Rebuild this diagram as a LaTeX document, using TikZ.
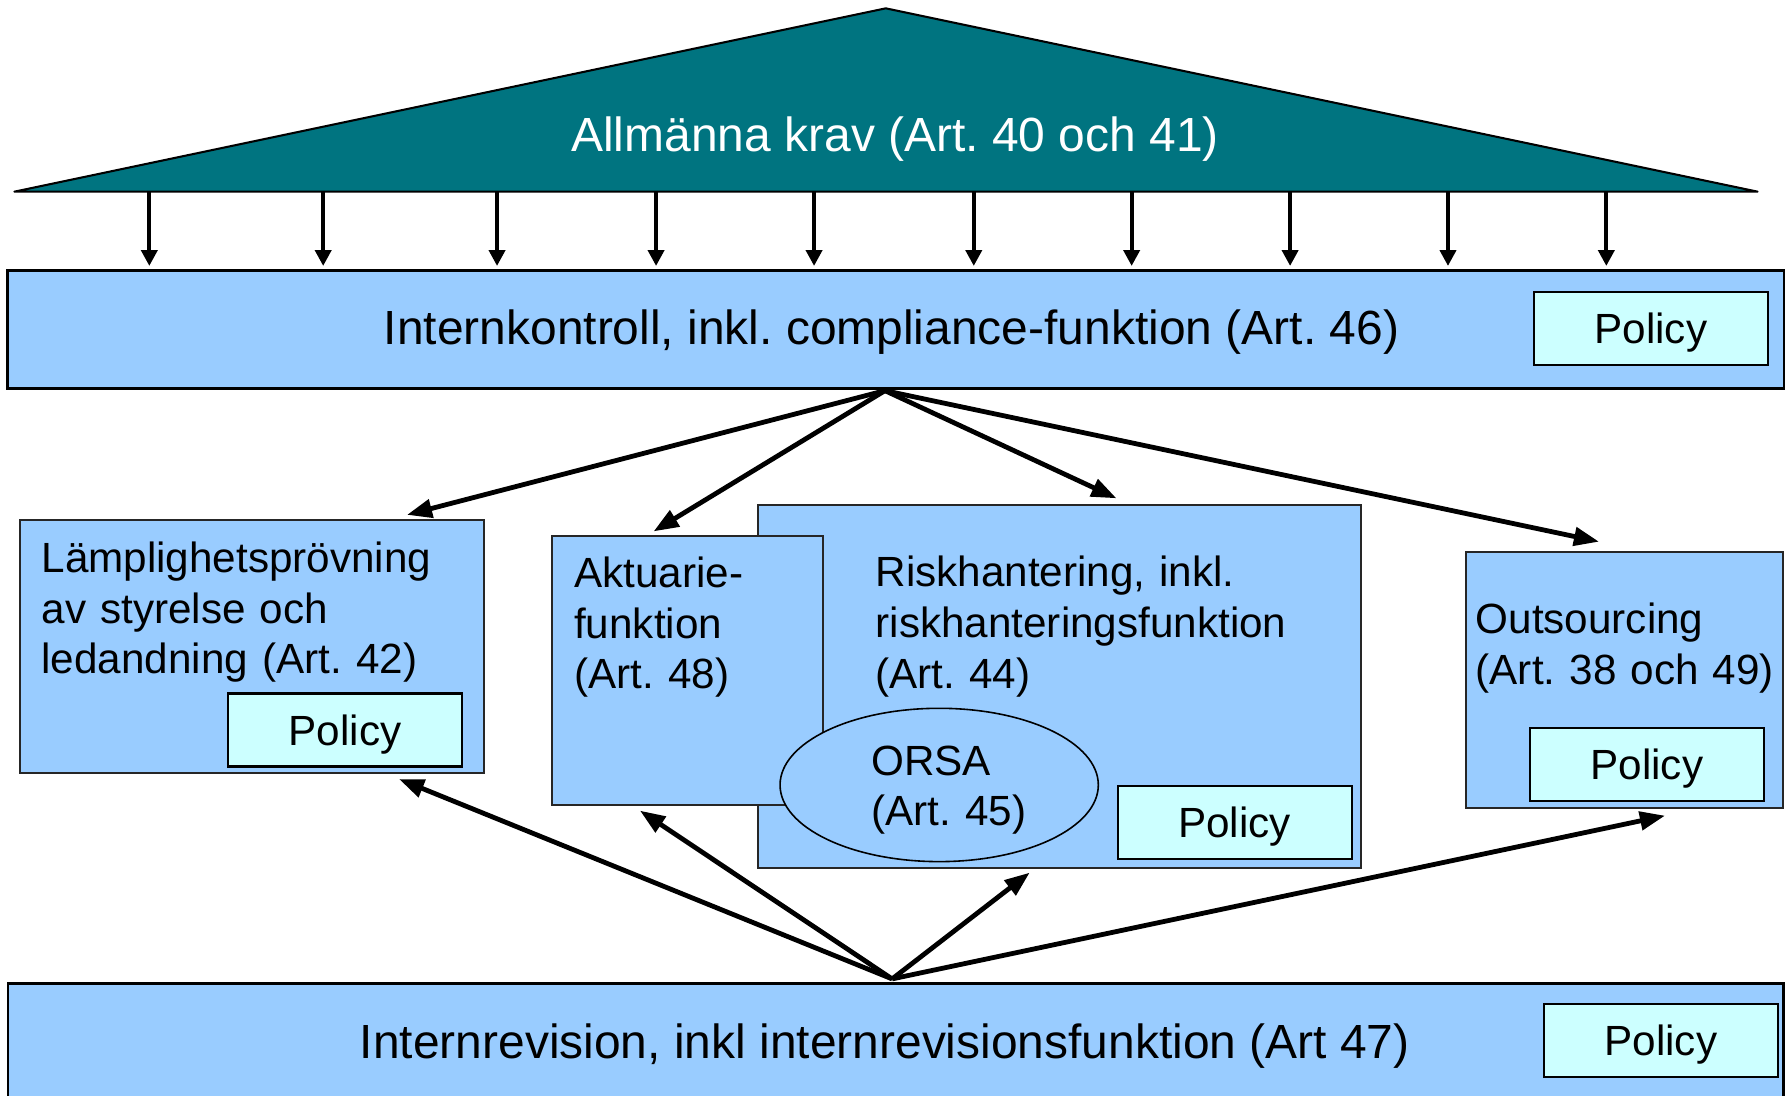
\documentclass[tikz,border=0pt]{standalone}
\usepackage{fontspec}
\setmainfont{Liberation Sans}
\usetikzlibrary{arrows.meta,shapes.geometric}
\definecolor{teal1}{HTML}{007480}
\definecolor{boxblue}{HTML}{99CCFF}
\definecolor{polcyan}{HTML}{CCFFFF}
\tikzset{
  sz/.style 2 args={minimum width=#1pt, minimum height=#2pt},
  mainbox/.style={draw=black, line width=2.2pt, fill=boxblue, inner sep=0pt},
  midbox/.style={draw=black!85, line width=1.6pt, fill=boxblue, inner sep=0pt},
  policybox/.style={draw=black, line width=1.9pt, fill=polcyan, inner sep=0pt,
    minimum width=205pt, minimum height=64pt,
    font=\fontsize{37}{44}\selectfont, text height=26.5pt, text depth=0pt},
  bigtext/.style={font=\fontsize{42}{50}\selectfont, inner sep=0pt, anchor=base west},
  smalltext/.style={font=\fontsize{37}{44.5}\selectfont, inner sep=0pt,
    text width=500pt, align=left, anchor=base west},
  vertarrow/.style={line width=3.5pt, -{Triangle[length=14pt,width=14pt]}, shorten >=3pt},
  diagarrow/.style={line width=4.2pt, -{Triangle[length=22pt,width=16pt]}},
}
\begin{document}
\frenchspacing
\begin{tikzpicture}[x=1pt,y=-1pt]
\useasboundingbox (0,0) rectangle (1568,960);

% Internkontroll box
\node[mainbox, sz={1556.2}{103.1}] (ik) at (784.6,288.65) {};
\node[bigtext] (ikT) at (336,302.2) {Internkontroll, inkl. compliance-funktion (Art. 46)};
\node[policybox] (ikpol) at (1446.1,287.6) {Policy};

% Triangle (Allmänna krav)
\draw[fill=teal1, draw=black, line width=1.8pt, line join=round]
  (12.6,167.9) -- (775.9,7.3) -- (1539.6,167.9) -- cycle;
\node[bigtext, text=white] (krav) at (500.3,132.9) {Allmänna krav (Art. 40 och 41)};

% vertical arrows from triangle base
\foreach \i/\xx in {1/130.8,2/283.1,3/435.4,4/574.7,5/713.1,6/853,7/991.3,8/1130.1,9/1268.4,10/1407.1}{
  \coordinate (b\i) at (\xx,167.9);
  \draw[vertarrow] (b\i) -- (b\i |- ik.north);
}

% Lämplighetsprövning
\node[midbox, sz={406.1}{221.9}] (lamp) at (220.65,566.45) {};
\node[smalltext] (lampT) at (36.2,501.3) {Lämplighetsprövning\\av styrelse och\\ledandning (Art. 42)};
\node[policybox] (lamppol) at (302.2,639.45) {Policy};

% Riskhantering (behind)
\node[midbox, sz={527.9}{318.2}] (risk) at (927.95,601.5) {};
\node[smalltext] (riskT) at (766.8,513.9) {Riskhantering, inkl.\\riskhanteringsfunktion\\(Art. 44)};
\node[policybox] (riskpol) at (1081.5,720.45) {Policy};

% Aktuariefunktion (in front of risk)
\node[midbox, sz={237}{235.7}] (akt) at (602.1,587.35) {};
\node[smalltext] (aktT) at (502.8,514.5) {Aktuarie-\\funktion\\(Art. 48)};

% ORSA ellipse
\node[ellipse, draw=black, line width=1.4pt, fill=boxblue, inner sep=0pt,
  sz={278.8}{134.3}] (orsa) at (822.7,687.6) {};
\node[smalltext, font=\fontsize{37}{43.8}\selectfont] (orsaT) at (763,678.9) {ORSA\\(Art. 45)};

% Outsourcing
\node[midbox, sz={277.9}{224.8}] (out) at (1422.95,595.6) {};
\node[smalltext] (outT) at (1292.5,554.8) {Outsourcing\\(Art. 38 och 49)};
\node[policybox] (outpol) at (1442.55,669.35) {Policy};

% Internrevision
\node[mainbox, sz={1555.1}{137}] (ir) at (784.55,930) {};
\node[bigtext] (irT) at (315,927) {Internrevision, inkl internrevisionsfunktion (Art 47)};
\node[policybox] (irpol) at (1454.85,911.3) {Policy};

% arrows from Internkontroll
\coordinate (ikout) at (775.2,342.2);
\coordinate (tLamp) at (356.5,451);
\coordinate (tAkt) at (572.5,465.5);
\coordinate (tRisk) at (978,436.5);
\coordinate (tOut) at (1400.7,474.5);
\draw[diagarrow] (ikout) -- (tLamp);
\draw[diagarrow] (ikout) -- (tAkt);
\draw[diagarrow] (ikout) -- (tRisk);
\draw[diagarrow] (ikout) -- (tOut);

% arrows from Internrevision
\coordinate (irout) at (781.5,857.5);
\coordinate (uLamp) at (349.5,682.4);
\coordinate (uAkt) at (560.6,710.1);
\coordinate (uRisk) at (902,764.4);
\coordinate (uOut) at (1458.5,714.5);
\draw[diagarrow] (irout) -- (uLamp);
\draw[diagarrow] (irout) -- (uAkt);
\draw[diagarrow] (irout) -- (uRisk);
\draw[diagarrow] (irout) -- (uOut);
\end{tikzpicture}
\end{document}
